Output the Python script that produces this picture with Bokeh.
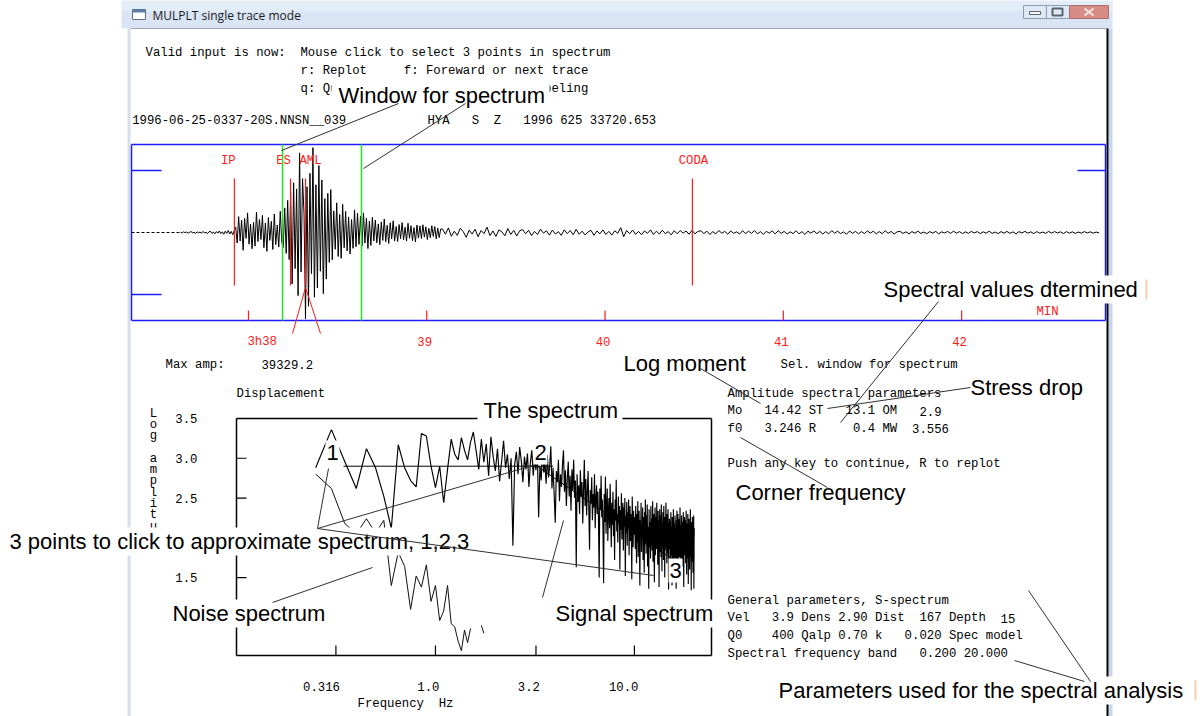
import re
import math
import numpy as np
from bokeh.plotting import figure
from bokeh.models import Range1d, LogScale
from bokeh.core.properties import value
from bokeh.embed import file_html
from bokeh.resources import INLINE

W, H = 1203, 716
MONO = value("Liberation Mono")
SANS = value("Liberation Sans")
UI = value("Open Sans")
MONO_SIZE = "12.3px"
CHAR_W = 7.38          # advance of one mono character at MONO_SIZE

# ------------------------------------------------------------------ data
title_text = "MULPLT single trace mode"
prompt_lines = [
    "Valid input is now:  Mouse click to select 3 points in spectrum",
    "r: Replot     f: Foreward or next trace",
    "q: Quit        t: Toggle trace labeling",
]
trace_header = "1996-06-25-0337-20S.NNSN__039           HYA   S  Z   1996 625 33720.653"
max_amp = 39329.2

# phase picks, minutes after 03h
pick_names = ["IP", "ES", "AML", "CODA"]
pick_times = [37.921, 38.236, 38.320, 40.490]
window_times = [38.191, 38.634]          # selected spectral window
time_ticks = [38, 39, 40, 41, 42]
time_tick_labels = ["3h38", "39", "40", "41", "42"]

# trace, amplitude in thousands of counts
seg1_t0 = 37.620      # min after 03h
seg1_dt = 0.5         # s
seg1_amp = [
    0.1, -0.2, 0.3, -0.1, 0.2, -0.3, 0.1, 0.4, -0.2, 0.1, -0.4, 0.3, -0.1, 0.2, -0.3, 0.5, -0.2, 0.1,
    -0.5, 0.3, 0.6, -0.4, 0.2, -0.6, 0.4, -0.3, 0.7, -0.5, 0.3, -0.8, 0.6, -0.4, 0.9, -0.7, 0.5, -1.0, 0.8,
    2.5, -4.8, 7.2, -3.9, 5.6, -8.1, 6.4, -2.7, 8.9, -5.3, 3.8, -7.4, 4.6, -6.2, 9.3, -4.1, 5.9, -3.2,
    7.8, -6.9, 4.3, -8.6, 6.8, -3.6, 5.1, -7.7, 8.4, -5.5, 3.4, -6.6, 9.6, -4.4,
    -6.8, 11.2, -9.5, 14.6, -12.3, 18.1, -23.4, 22.6, -16.4, 19.8, -28.7, 36.2, -17.9, 24.5, 8.6,
    -39.3292, 20.8, -33.5, 26.9, -18.7, 38.6, -29.4, 21.7, -25.2, 30.4, -17.6, 23.9, -27.8, 15.4,
    -21.2, 17.8, -13.6, 19.5,
    -12.4, 9.8, -7.6, 13.5, -10.9, 8.2, -11.7, 12.8, -6.9,
    9.6, -8.4, 7.1, -9.8, 5.9, -7.2, 10.3, -6.5, 8.8, -5.4,
    7.4, -6.1, 8.9, -4.8, 6.6, -7.3, 5.2, -5.9, 6.9, -3.8,
    5.6, -4.7, 3.9, -5.5, 4.8, -3.6, 6.1, -4.2, 3.3, -5.0, 4.4, -2.9, 5.3, -3.9, 2.7,
    -4.1, 3.6, -2.8, 4.5, -3.3, 2.4, -3.9, 4.2, -2.6, 3.1, -3.7, 2.2, -4.3, 3.4, -2.5,
    3.0, -2.7, 3.5, -2.1, 2.6, -3.2, 1.9, -2.4, 3.1, -1.8, 2.7, -2.9, 2.0, -2.3, 1.6,
]
seg2_t0 = 39.088
seg2_dt = 1.0
seg2_amp = [
    1.6, -0.8, 2.1, -1.7, 0.6, -1.3, 1.9, 0.4, -2.2, 1.1, -0.7, 1.5, -1.9, 0.9, -0.5, 2.4, -1.4, 0.7,
    -1.8, 1.2, 0.3, -1.5, 1.8, -0.9, 1.0, -1.6, 0.8,
    1.3, -0.6, 1.0, -1.4, 0.5, -0.9, 1.5, -0.3, 0.8, -1.2, 1.1, -0.7, 0.4, -1.3, 1.2, -0.5, 0.9, -1.0,
    1.4, -0.8, 0.6, -1.1, 0.2, 1.0, -1.3, 0.7, -0.6, 1.2, -0.9, 0.5, -1.2, 0.8, -0.4,
    2.2, -1.9, 0.9, -0.6, 1.1, -0.8, 0.5, -1.0, 0.7, -0.4, 1.2, -0.9, 0.6, -0.7, 1.0, -0.5, 0.4, -1.1,
    0.8, -0.6, 0.9, -0.3, 0.7, -0.8, 1.0, -0.6, 0.5,
    0.8, -0.5, 0.6, -0.9, 0.4, -0.6, 0.9, -0.3, 0.5, -0.8, 0.7, -0.4, 0.3, -0.7, 0.8, -0.5, 0.6, -0.4,
    0.9, -0.6, 0.4, -0.8, 0.5, -0.3, 0.7, -0.6, 0.8, -0.4, 0.5, -0.7, 0.3, -0.5, 0.8, -0.6, 0.4, -0.9,
    0.6, -0.3, 0.7, -0.5, 0.5, -0.7, 0.4, -0.6, 0.8, -0.3, 0.6, -0.5, 0.3, -0.8, 0.7, -0.4, 0.5, -0.6,
    0.4, -0.5, 0.7, -0.3, 0.6, -0.6, 0.4, -0.5, 0.8, -0.4, 0.5, -0.7, 0.3,
    0.5, -0.4, 0.3, -0.6, 0.4, -0.3, 0.6, -0.4, 0.2, -0.5, 0.4, -0.3, 0.5, -0.6, 0.3, -0.2, 0.5, -0.4,
    0.6, -0.3, 0.4, -0.5, 0.3, -0.4, 0.5, -0.2, 0.4, -0.5, 0.3, -0.3, 0.6, -0.4, 0.2, -0.5, 0.4, -0.3,
    0.5, -0.4, 0.3, -0.6, 0.4, -0.2, 0.5, -0.3, 0.3, -0.5, 0.4, -0.3, 0.2, -0.4, 0.5, -0.3, 0.4, -0.2,
    0.3, -0.5, 0.4, -0.3, 0.3, -0.4, 0.2, -0.3, 0.4, -0.2, 0.3, -0.3, 0.2, -0.2,
]

# displacement spectra, log10 amplitude on a linear frequency grid
spec_f_start = 0.25   # Hz
spec_df = 0.05        # Hz
signal_logamp = [
    2.88, 3.36,
    2.96, 2.62, 3.12, 2.88, 2.52, 2.12, 3.17, 2.88, 2.72, 2.64, 3.31, 3.28, 2.90, 2.63, 2.90, 2.44,
    2.86, 3.24, 3.05, 2.98, 3.26, 3.10, 2.98, 3.20, 3.33,
    3.10, 2.86, 3.24, 2.95, 3.18, 2.78, 3.27, 3.02, 2.84, 3.12, 2.71, 2.96, 3.22, 2.88, 3.05, 2.74,
    3.00, 1.90,
    2.92, 3.08, 2.80, 3.14, 2.97, 2.70, 3.02, 2.86, 3.06, 2.64, 2.95, 3.10, 2.78, 3.00, 2.85, 3.12,
    2.26, 2.90, 2.72, 3.15, 2.82,
    2.95, 2.68, 3.04, 2.76, 2.90, 3.15, 2.62, 2.88, 2.55, 2.19, 2.84, 2.70, 2.98, 2.46, 2.80, 2.64,
    2.92, 3.10, 2.58, 2.85, 2.40, 2.75, 2.96, 2.52, 2.78, 2.34, 2.86, 2.60, 2.98, 2.50,
    2.72, 1.63, 2.80, 2.45, 2.66, 2.30, 2.85, 2.52, 2.70, 2.18, 2.62, 2.98, 2.40, 2.74, 2.28, 2.58,
    2.84, 2.36, 1.85, 2.60, 2.44, 2.76, 2.22, 2.55, 2.38, 2.80, 2.12, 2.50, 2.66, 2.30, 2.58, 2.20,
    1.50, 2.62, 2.35, 2.78, 2.26, 2.48, 2.10, 1.43,
    2.55, 2.20, 2.77, 2.05, 2.40, 2.62, 1.96, 2.34, 2.50, 2.12,
    2.68, 2.28, 1.88, 2.44, 2.16, 2.58, 2.02, 2.36, 1.72, 2.48,
    2.22, 2.73, 2.08, 2.30, 1.94, 2.52, 2.18, 2.40, 1.60, 2.35,
    2.10, 2.56, 1.98, 2.26, 2.44, 1.84, 2.38, 2.14, 2.50, 1.52,
    2.28, 2.06, 2.45, 1.90, 2.32, 2.12, 2.48, 1.78, 2.20, 2.40,
    1.96, 2.30, 2.08, 1.48, 2.52, 2.16, 1.88, 2.34, 2.04, 2.26,
    2.18, 1.86, 2.40, 2.02, 1.68, 2.30, 1.94, 2.46, 1.76, 2.12,
    2.34, 1.90, 1.40, 2.22, 2.06, 2.44, 1.82, 2.16, 1.98, 2.38,
    1.72, 2.26, 2.04, 1.56, 2.32, 1.92, 2.48, 2.10, 1.80, 2.28,
    1.96, 2.42, 1.64, 2.14, 2.00, 1.36, 2.36, 1.88, 2.20, 2.08,
    1.74, 2.40, 1.94, 2.24, 1.84, 2.12, 2.46, 1.70, 2.02, 2.30,
    1.90, 1.44, 2.18, 2.38, 1.78, 2.06, 2.26, 1.86, 2.44, 1.98,
    2.14, 1.66, 2.34, 1.92, 2.22, 1.38, 2.10, 2.36, 1.82, 2.04,
    2.28, 1.76, 2.42, 2.00, 1.58, 2.20, 1.88, 2.32, 2.08, 1.72,
    2.40, 1.96, 2.16, 1.50, 2.26, 1.84, 2.12, 2.44, 1.90, 2.02,
    1.68, 2.30, 2.06, 1.80, 2.36, 1.94, 1.35, 2.18, 2.00, 2.24,
    1.86, 2.20, 1.62, 2.04, 2.32, 1.78, 1.96, 2.14, 1.40, 2.26,
    1.92, 2.08, 1.70, 2.36, 1.84, 2.00, 1.52, 2.18, 1.90, 2.28,
    1.74, 2.10, 1.98, 1.36, 2.22, 1.82, 2.34, 1.94, 1.66, 2.06,
    2.30, 1.88, 2.12, 1.58, 2.02, 2.24, 1.76, 1.96, 2.38, 1.80,
    2.16, 1.46, 2.06, 1.92, 2.28, 1.72, 2.10, 1.86, 2.20, 1.64,
    1.98, 2.32, 1.84, 1.38, 2.14, 1.94, 2.26, 1.78, 2.04, 1.90,
    2.22, 1.68, 2.00, 2.34, 1.82, 1.54, 2.18, 1.96, 2.08, 1.74,
    2.30, 1.88, 1.42, 2.12, 1.98, 2.24, 1.80, 2.06, 1.60, 2.16,
    1.92, 2.36, 1.76, 2.02, 1.86, 1.34, 2.20, 1.94, 2.10, 1.70,
    2.26, 1.84, 2.04, 1.56, 2.14, 1.90, 2.28, 1.36, 1.98, 2.12,
]
nan = float("nan")
noise_logamp = [
    2.80, 2.62, 2.18, 2.05, 2.24, 2.06, 2.22, 1.40, 1.82, 1.64, 1.10, 1.52, 1.38, 1.66, 1.20, 1.40,
    0.96, 1.08, 1.40, 0.92, 0.88, 0.70, 0.58, 0.84, 0.68, 0.86, nan, nan, nan, 0.90, 0.80,
]
freq_ticks = [0.316, 1.0, 3.2, 10.0]
freq_tick_labels = ["0.316", "1.0", "3.2", "10.0"]
amp_ticks = [3.5, 3.0, 2.5, 2.0, 1.5, 1.0]
amp_tick_labels = ["3.5", "3.0", "2.5", "2.0", "1.5", "1.0"]

# spectral fit: flat level, corner frequency, high-frequency decay
omega0 = 2.9
corner_f = 3.246
hf_decay = 1.72
click_f = [0.345, 3.9, 16.0]

result_lines = [
    "Amplitude spectral parameters",
    "Mo   14.42 ST   13.1 OM   2.9",
    "f0   3.246 R     0.4 MW  3.556",
]
general_lines = [
    "General parameters, S-spectrum",
    "Vel   3.9 Dens 2.90 Dist  167 Depth  15",
    "Q0    400 Qalp 0.70 k   0.020 Spec model",
    "Spectral frequency band   0.200 20.000",
]

# ------------------------------------------------------------------ layout
SEIS_L, SEIS_R, SEIS_T, SEIS_B = 131, 1105, 144, 320
T_MIN, T_MAX = 37.344, 42.807
AMP_LIM = 40.0
SPEC_L, SPEC_R, SPEC_T, SPEC_B = 236, 711, 418, 655
F_MIN, F_MAX = 0.1, 24.4
A_MIN, A_MAX = 0.52, 3.5


def span_range(v_a, px_a, v_b, px_b, total):
    k = (v_b - v_a) / (px_b - px_a)
    start = v_a - px_a * k
    return start, start + total * k


p = figure(width=W, height=H, x_range=Range1d(0, W), y_range=Range1d(H, 0),
           output_backend="svg", toolbar_location=None,
           x_axis_location=None, y_axis_location=None, min_border=0, title=None)
p.outline_line_color = None
p.background_fill_color = "white"
p.border_fill_color = "white"
p.grid.visible = False

t0, t1 = span_range(T_MIN, SEIS_L, T_MAX, SEIS_R, W)
a0, a1 = span_range(-AMP_LIM, H - SEIS_B, AMP_LIM, H - SEIS_T, H)
l0, l1 = span_range(math.log10(F_MIN), SPEC_L, math.log10(F_MAX), SPEC_R, W)
s0, s1 = span_range(A_MIN, H - SPEC_B, A_MAX, H - SPEC_T, H)
p.extra_x_ranges = {"t": Range1d(t0, t1), "logf": Range1d(10 ** l0, 10 ** l1)}
p.extra_x_scales = {"logf": LogScale()}
p.extra_y_ranges = {"amp": Range1d(a0, a1), "lamp": Range1d(s0, s1)}


def mono_runs(line, x0, y):
    return [(x0 + m.start() * CHAR_W, y, m.group())
            for m in re.finditer(r"\S+(?: \S+)*", line)]


def mono(runs, color="black"):
    xs, ys, ts = zip(*runs)
    p.text(x=list(xs), y=list(ys), text=list(ts), text_font=MONO,
           text_font_size=MONO_SIZE, text_color=color,
           text_baseline="middle", text_align="left")


# ------------------------------------------------------------------ window chrome
p.quad(left=121, right=1112, top=0, bottom=28, fill_color="#d9e5f4", line_color=None)
p.quad(left=121, right=1112, top=0, bottom=11, fill_color="#e3edf8", line_color=None)
p.quad(left=132, right=145, top=9, bottom=19, fill_color="white", line_color="#5d6d85")
p.quad(left=132, right=145, top=9, bottom=12, fill_color="#5d7ca8", line_color=None)
p.text(x=[152], y=[15], text=[title_text], text_font=UI, text_font_size="12px",
       text_color="#1b1b1b", text_baseline="middle")
p.quad(left=[1023, 1046], right=[1046, 1069], top=5, bottom=18,
       fill_color="#dfe9f5", line_color="#8d9cb0")
p.quad(left=1069, right=1108, top=5, bottom=18, fill_color="#d88c86", line_color="#a86e6e")
p.quad(left=1029, right=1040, top=11, bottom=14, fill_color="#f4f7fb", line_color="#5c6470")
p.quad(left=1052, right=1062, top=8, bottom=15, fill_color=None, line_color="#5c6470", line_width=2)
p.segment(x0=[1084, 1084], y0=[8, 15], x1=[1093, 1093], y1=[15, 8],
          line_color="#f6e4e4", line_width=2)
p.segment(x0=130, y0=28, x1=1106, y1=28, line_color="#9aa6b4", line_width=1)
p.quad(left=127, right=130, top=28, bottom=H, fill_color="#d5dfeb", line_color=None)
p.quad(left=1108, right=1112, top=28, bottom=H, fill_color="#c7d6ea", line_color=None)
p.segment(x0=1107, y0=28, x1=1107, y1=H, line_color="black", line_width=2)

# ------------------------------------------------------------------ prompt and header
mono(mono_runs(prompt_lines[0], 145, 52)
     + mono_runs(prompt_lines[1], 300, 70)
     + mono_runs(prompt_lines[2], 300, 88)
     + mono_runs(trace_header, 131.7, 120))

# ------------------------------------------------------------------ seismogram panel
BLUE = "#1c1cff"
p.segment(x0=[SEIS_L, SEIS_L, SEIS_L, SEIS_R], y0=[SEIS_T, SEIS_B, SEIS_T, SEIS_T],
          x1=[SEIS_R, SEIS_R, SEIS_L, SEIS_R], y1=[SEIS_T, SEIS_B, SEIS_B, SEIS_B],
          line_color=BLUE, line_width=1.5)
p.segment(x0=[SEIS_L, SEIS_L, SEIS_R - 28, SEIS_R - 28], y0=[170, 294, 170, 294],
          x1=[SEIS_L + 30, SEIS_L + 30, SEIS_R, SEIS_R], y1=[170, 294, 170, 294],
          line_color=BLUE, line_width=1.5)

tr1 = seg1_t0 + np.arange(len(seg1_amp)) * seg1_dt / 60.0
tr2 = seg2_t0 + np.arange(len(seg2_amp)) * seg2_dt / 60.0
p.line([T_MIN, seg1_t0], [0, 0], x_range_name="t", y_range_name="amp",
       line_color="black", line_width=1, line_dash="3 2")
p.line(np.concatenate([tr1, tr2]), np.concatenate([seg1_amp, seg2_amp]),
       x_range_name="t", y_range_name="amp", line_color="black", line_width=1)

RED = "#ff1a1a"
p.segment(x0=pick_times, y0=178, x1=pick_times, y1=285, x_range_name="t",
          line_color=RED, line_width=1.2)
p.text(x=pick_times, y=[160] * 4, text=pick_names, x_offset=[-6, -7, 5, 1],
       x_range_name="t", text_font=MONO, text_font_size=MONO_SIZE, text_color=RED,
       text_align="center", text_baseline="middle")
p.segment(x0=window_times, y0=SEIS_T, x1=window_times, y1=SEIS_B, x_range_name="t",
          line_color="#22e022", line_width=1.5)
p.segment(x0=time_ticks, y0=SEIS_B - 10, x1=time_ticks, y1=SEIS_B, x_range_name="t",
          line_color=RED, line_width=1.2)
p.text(x=time_ticks[:1], y=[341], text=time_tick_labels[:1], x_offset=-1,
       x_range_name="t", text_font=MONO, text_font_size=MONO_SIZE, text_color=RED,
       text_align="left", text_baseline="middle")
p.text(x=time_ticks[1:], y=[341] * 4, text=time_tick_labels[1:], x_offset=-2,
       x_range_name="t", text_font=MONO, text_font_size=MONO_SIZE, text_color=RED,
       text_align="center", text_baseline="middle")
p.text(x=[1047], y=[311], text=["MIN"], text_font=MONO, text_font_size=MONO_SIZE,
       text_color=RED, text_align="center", text_baseline="middle")

mono(mono_runs("Max amp:     %.1f" % max_amp, 165, 364)
     + mono_runs("Sel. window for spectrum", 780, 364)
     + [r for i, ln in enumerate(result_lines) for r in mono_runs(ln, 727, 393 + 17.5 * i)]
     + mono_runs("Push any key to continue, R to replot", 727, 463)
     + [r for i, ln in enumerate(general_lines) for r in mono_runs(ln, 727, 600 + 17.8 * i)])

# ------------------------------------------------------------------ spectrum panel
p.segment(x0=[SPEC_L, SPEC_L, SPEC_L, SPEC_R], y0=[SPEC_T, SPEC_B, SPEC_T, SPEC_T],
          x1=[SPEC_R, SPEC_R, SPEC_L, SPEC_R], y1=[SPEC_T, SPEC_B, SPEC_B, SPEC_B],
          line_color="black", line_width=1.5)
p.segment(x0=freq_ticks, y0=SPEC_B - 10, x1=freq_ticks, y1=SPEC_B, x_range_name="logf",
          line_color="black", line_width=1.2)
p.text(x=freq_ticks, y=[686] * 4, text=freq_tick_labels, x_offset=4, x_range_name="logf",
       text_font=MONO, text_font_size=MONO_SIZE, text_align="right", text_baseline="middle")
p.segment(x0=SPEC_L, y0=amp_ticks, x1=SPEC_L + 10, y1=amp_ticks, y_range_name="lamp",
          line_color="black", line_width=1.2)
p.text(x=[197] * len(amp_ticks), y=amp_ticks, text=amp_tick_labels, y_range_name="lamp",
       text_font=MONO, text_font_size=MONO_SIZE, text_align="right", text_baseline="middle")

ylab = [(ch, i) for i, ch in enumerate("Log amplitude") if ch != " "]
p.text(x=[153] * len(ylab), y=[413 + 11.3 * i for _, i in ylab], text=[c for c, _ in ylab],
       text_font=MONO, text_font_size=MONO_SIZE, text_align="center", text_baseline="middle")
mono(mono_runs("Displacement", 236, 393) + mono_runs("Frequency  Hz", 357, 703))

sig_f = spec_f_start + spec_df * np.arange(len(signal_logamp))
noi_f = spec_f_start + spec_df * np.arange(len(noise_logamp))
p.line(noi_f, noise_logamp, x_range_name="logf", y_range_name="lamp",
       line_color="#111111", line_width=1)
p.line(sig_f, signal_logamp, x_range_name="logf", y_range_name="lamp",
       line_color="black", line_width=1.15)

p.line([click_f[0], click_f[1]], [omega0, omega0], x_range_name="logf", y_range_name="lamp",
       line_color="black", line_width=1)
hf_f = np.array([corner_f, click_f[2]])
p.line(hf_f, omega0 - hf_decay * np.log10(hf_f / corner_f), x_range_name="logf",
       y_range_name="lamp", line_color="black", line_width=1)

# ------------------------------------------------------------------ callouts
callouts = [
    ("Window for spectrum", 338, 95, 331, 549),
    ("Spectral values dtermined", 883, 289, 880, 1141),
    ("Log moment", 623, 363, 620, 747),
    ("Stress drop", 970, 387, 967, 1085),
    ("The spectrum", 483, 410, 477, 622),
    ("Corner frequency", 735, 492, 732, 908),
    ("3 points to click to approximate spectrum, 1,2,3", 9, 541, 5, 472),
    ("Noise spectrum", 172, 613, 169, 328),
    ("Signal spectrum", 555, 613, 552, 714),
    ("Parameters used for the spectral analysis", 778, 690, 775, 1186),
]
p.quad(left=[c[3] for c in callouts], right=[c[4] for c in callouts],
       top=[c[2] - 14 for c in callouts], bottom=[c[2] + 14 for c in callouts],
       fill_color="white", line_color=None)
p.text(x=[c[1] for c in callouts], y=[c[2] for c in callouts], text=[c[0] for c in callouts],
       text_font=SANS, text_font_size="22px", text_color="black",
       text_align="left", text_baseline="middle")

digits = [("1", 332, 452), ("2", 540, 452), ("3", 675, 570)]
p.quad(left=[d[1] - 7 for d in digits], right=[d[1] + 7 for d in digits],
       top=[d[2] - 12 for d in digits], bottom=[d[2] + 12 for d in digits],
       fill_color="white", line_color=None)
p.text(x=[d[1] for d in digits], y=[d[2] for d in digits], text=[d[0] for d in digits],
       text_font=SANS, text_font_size="22px", text_color="black",
       text_align="center", text_baseline="middle")

pointers = [
    (398, 103, 281, 150), (465, 103, 363, 168), (938, 301, 840, 422), (700, 368, 760, 403),
    (970, 387, 827, 408), (740, 437, 827, 487), (317, 528, 328, 468), (317, 528, 532, 465),
    (317, 528, 653, 575), (272, 602, 372, 567), (542, 597, 563, 520), (1028, 590, 1090, 681),
    (1014, 660, 1084, 681),
]
p.segment(x0=[q[0] for q in pointers], y0=[q[1] for q in pointers],
          x1=[q[2] for q in pointers], y1=[q[3] for q in pointers],
          line_color="#303030", line_width=1)
p.segment(x0=[305, 305], y0=[287, 287], x1=[292, 320], y1=[333, 333],
          line_color=RED, line_width=1)
p.segment(x0=[1146, 1195], y0=[279, 680], x1=[1146, 1195], y1=[299, 700],
          line_color="#f6cfa6", line_width=2)

open("out.html", "w").write(file_html(p, INLINE))
